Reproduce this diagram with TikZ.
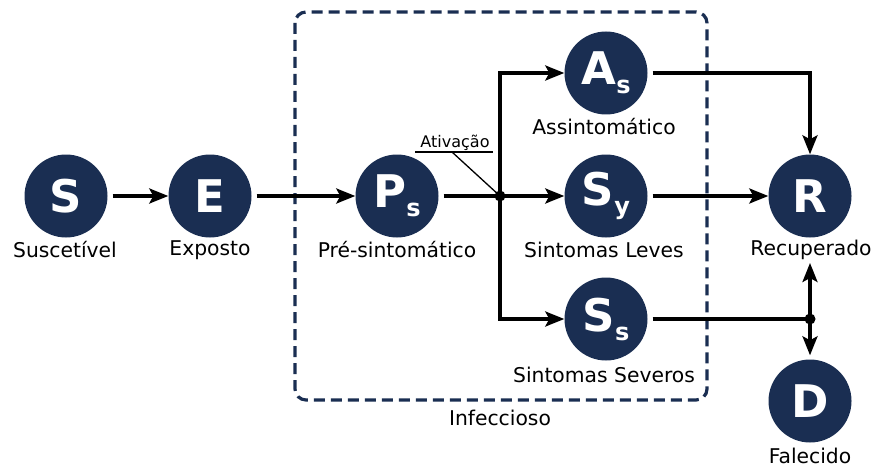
\documentclass[tikz,border=0pt]{standalone}
\usepackage{fontspec}
\setmainfont{DejaVu Sans}
\usetikzlibrary{arrows.meta}
\definecolor{navy}{HTML}{1A2E52}
\tikzset{
  comp/.style={circle,fill=navy,minimum size=83pt,inner sep=0pt,text=white,font=\fontsize{45}{48}\selectfont\bfseries},
  lab/.style={font=\fontsize{20.3}{23}\selectfont,text=black,inner sep=0pt},
  flow/.style={line width=3.2pt,draw=black,-{Stealth[length=19pt,width=15pt,inset=4pt]}},
  wire/.style={line width=3.2pt,draw=black},
  jdot/.style={circle,fill=black,minimum size=11pt,inner sep=0pt}
}
\newcommand{\subsc}[1]{\raisebox{-9pt}{\fontsize{24}{26}\selectfont #1}}
\begin{document}
\begin{tikzpicture}[x=1pt,y=-1pt]
\useasboundingbox (0,0) rectangle (872,468);
\draw[navy,line width=3.2pt,dash pattern=on 11pt off 6pt,rounded corners=11pt] (295,12) rectangle (707,400);
\node[comp] (S) at (66,196) {S};
\node[comp] (E) at (210,196) {E};
\node[comp] (P) at (397,196) {P\subsc{s}};
\node[comp] (A) at (606,73) {A\subsc{s}};
\node[comp] (Sy) at (606,196) {S\subsc{y}};
\node[comp] (Ss) at (606,319) {S\subsc{s}};
\node[comp] (R) at (810,196) {R};
\node[comp] (D) at (810,401) {D};
\node[lab] (lS) at (65,250) {Suscetível};
\node[lab] (lE) at (210,250) {Exposto};
\node[lab] (lP) at (397,250) {Pré-sintomático};
\node[lab] (lA) at (604,127) {Assintomático};
\node[lab] (lSy) at (604,250) {Sintomas Leves};
\node[lab] (lSs) at (604,375) {Sintomas Severos};
\node[lab] (lR) at (811,250) {Recuperado};
\node[lab] (lD) at (810,456) {Falecido};
\node[lab] (lI) at (500,418) {Infeccioso};
\node[jdot] (J) at (500,196) {};
\node[jdot] (K) at (810,319) {};
\coordinate (Jup) at (500,73);
\coordinate (Jdn) at (500,319);
\coordinate (Acor) at (810,73);
\coordinate (Rlow) at (810,263);
\node[font=\fontsize{16}{18}\selectfont,inner sep=0pt] (act) at (455,143) {Ativação};
\coordinate (u1) at (415,152);
\coordinate (u2) at (493,152);
\coordinate (u3) at (452,152);
\draw[line width=1.3pt] (u1) -- (u2);
\draw[line width=1.3pt] (u3) -- (J.center);
\draw[flow,shorten <=5pt] (S) -- (E);
\draw[flow,shorten <=5pt] (E) -- (P);
\draw[wire,shorten <=5pt] (P) -- (J.center);
\draw[flow] (J.center) -- (Sy);
\draw[flow] (J.center) -- (Jup) -- (A);
\draw[flow] (J.center) -- (Jdn) -- (Ss);
\draw[flow,shorten <=5pt] (A) -- (Acor) -- (R);
\draw[flow,shorten <=5pt] (Sy) -- (R);
\draw[wire,shorten <=5pt] (Ss) -- (K.center);
\draw[flow] (K.center) -- (Rlow);
\draw[flow,shorten >=4pt] (K.center) -- (D);
\end{tikzpicture}
\end{document}
